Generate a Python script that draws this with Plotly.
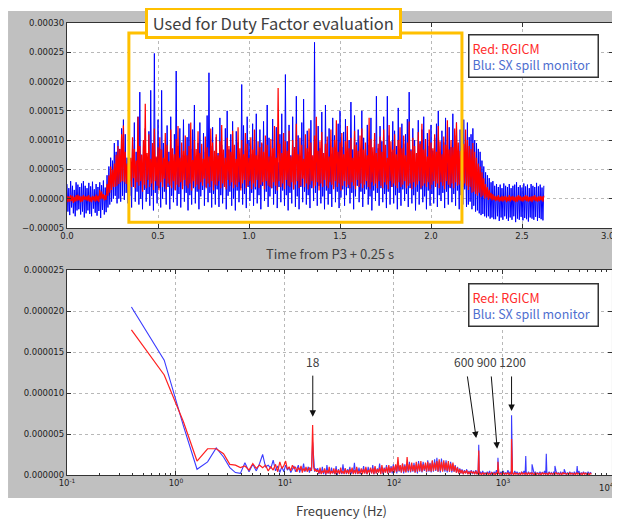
import math
import numpy as np
import plotly.graph_objects as go

# ---------------- Top panel: spill signal vs time (units of 1e-6) ----------------
t_step = 0.005  # s, sampling grid of the reproduced trace
sx_spill_top = [
    # 0.000-0.215 s
    25, -22, 18, -28, 30, -15, 22, -25, 15, -30, 28, -20, 24, -18, 20, -27, 26, -22, 30, -32, 22, -25,
    18, -20, 27, -26, 21, -30, 29, -17, 16, -24, 25, -29, 20, -21, 28, -33, 23, -19, 31, -27, 19, -23,
    # 0.220-0.315 s
    40, -15, 55, -10, 70, -5, 65, 0, 95, 5, 80, -8, 100, 0, 85, -5, 120, 5, 135, -2,
    # 0.320-2.195 s
    110, 10, 70, -8, 125, 5, 60, -15, 95, 20, 130, -5, 80, 12, 140, -10, 182, 0, 75, -18,
    100, 15, 120, -5, 65, 8, 115, -12, 185, 5, 90, -20, 248, 10, 70, -8, 135, 18, 85, -15,
    185, 0, 95, 12, 60, -10, 125, 20, 80, -18, 140, 5, 70, -6, 110, 15, 218, -12, 90, 8,
    120, -15, 75, 22, 135, -5, 65, 10, 105, -20, 128, 6, 85, -10, 118, 18, 160, -8, 72, 12,
    95, -18, 130, 4, 68, 15, 112, -12, 80, 20, 142, -6, 215, 10, 90, -15, 122, 8, 60, -10,
    105, 16, 78, -14, 138, 6, 92, -8, 64, 22, 120, -18, 150, 5, 84, 12, 110, -12, 132, 0,
    70, -20, 115, 14, 96, -6, 58, 18, 195, -10, 125, 8, 82, -16, 140, 20, 100, -4, 76, 10,
    128, -12, 88, 16, 145, -8, 66, 6, 118, -18, 94, 22, 132, -4, 78, 12, 160, -14, 104, 4,
    72, 18, 136, -10, 90, 8, 122, -16, 62, 20, 110, -6, 145, 14, 84, -12, 212, 6, 98, -20,
    126, 10, 74, -8, 140, 16, 88, -14, 175, 4, 108, -18, 68, 20, 130, -6, 170, 12, 92, -10,
    116, 6, 80, -16, 134, 18, 60, -4, 267, 10, 102, -12, 124, 22, 86, -8, 148, 4, 70, -18,
    160, 14, 94, -10, 120, 8, 76, -14, 138, 20, 108, -6, 66, 12, 128, -16, 150, 2, 88, 16,
    114, -12, 136, 6, 72, 18, 100, -8, 165, 10, 84, -18, 142, 4, 96, 22, 118, -6, 62, 12,
    150, -14, 104, 8, 82, 16, 126, -10, 92, 4, 138, -20, 70, 14, 112, -4, 175, 10, 86, -12,
    124, 18, 98, -6, 140, 8, 64, -16, 175, 12, 108, -10, 80, 20, 132, -8, 116, 6, 90, -18,
    155, 10, 72, -12, 128, 16, 94, -4, 110, 8, 136, -14, 182, 18, 84, -8, 120, 6, 100, -20,
    76, 12, 134, -10, 98, 16, 118, -6, 140, 4, 68, -18, 112, 14, 90, -12, 126, 8, 82, -8,
    104, 20, 128, -14, 150, 6, 74, -4, 116, 10, 96, -16, 138, 12, 62, -10, 122, 18, 88, -6,
    145, 8, 108, -12, 130, 14, 78, -18, 118, 6, 94, -10, 135, 16, 70, -14,
    # 2.200-2.345 s
    130, -10, 105, -5, 110, -18, 120, -12, 100, -22, 95, -20, 85, -25, 80, -28, 65, -26, 55, -30,
    45, -32, 40, -30, 35, -34, 28, -32, 30, -35,
    # 2.350-2.620 s
    22, -35, 25, -30, 20, -38, 24, -32, 18, -36, 26, -30, 22, -34, 20, -38, 25, -32, 18, -36,
    22, -30, 24, -40, 28, -34, 20, -36, 23, -31, 19, -37, 26, -33, 21, -35, 24, -39, 18, -32,
    25, -34, 22, -36, 20, -31, 27, -38, 21, -33, 24, -35, 19, -37, 22,
]
rgicm_top = [
    5, -6, 4, -5, 6, -4, 5, -7, 3, -5, 6, -4, 7, -3, 5, -6, 4, -5, 6, -2, 4, -3,
    5, -4, 6, -5, 3, -6, 5, -3, 4, -5, 7, -4, 5, -6, 15, -1, 12, 0, 8, -3, 6, -2,
    25, 5, 40, 10, 55, 15, 50, 20, 60, 20, 75, 22, 90, 25, 85, 28, 110, 30, 125, 28,
    80, 25, 60, 15, 95, 30, 70, 20, 105, 35, 85, 18, 65, 28, 140, 22, 90, 30, 75, 12,
    100, 24, 162, 18, 78, 32, 110, 20, 68, 26, 95, 15, 120, 30, 72, 22, 88, 14, 105, 28,
    84, 20, 70, 34, 112, 16, 92, 26, 64, 22, 118, 18, 86, 30, 76, 14, 102, 24, 124, 20,
    70, 28, 96, 16, 82, 32, 108, 22, 74, 18, 90, 26, 130, 14, 66, 30, 100, 20, 85, 24,
    115, 16, 78, 28, 94, 22, 68, 34, 106, 18, 88, 26, 72, 20, 120, 30, 96, 14, 82, 24,
    110, 22, 74, 30, 98, 18, 126, 26, 84, 20, 70, 16, 104, 32, 90, 22, 80, 28, 116, 18,
    92, 24, 68, 20, 122, 28, 86, 14, 100, 26, 76, 32, 112, 18, 94, 22, 70, 30, 105, 16,
    84, 26, 118, 20, 74, 32, 98, 18, 88, 24, 96, 28, 80, 16, 108, 30, 92, 22, 72, 20,
    102, 18, 86, 28, 124, 22, 70, 14, 189, 30, 94, 20, 78, 26, 112, 16, 98, 32, 82, 22,
    116, 20, 72, 28, 100, 16, 88, 24, 128, 30, 76, 18, 104, 22, 92, 34, 68, 20, 110, 26,
    86, 16, 120, 24, 96, 30, 74, 18, 108, 22, 140, 28, 82, 14, 98, 26, 114, 20, 78, 32,
    94, 22, 106, 18, 72, 28, 118, 24, 88, 16, 100, 30, 134, 20, 80, 26, 96, 14, 112, 22,
    76, 30, 98, 20, 124, 24, 86, 18, 104, 28, 70, 22, 116, 16, 92, 32, 82, 20, 108, 26,
    120, 18, 84, 24, 96, 30, 74, 20, 138, 16, 102, 28, 88, 22, 112, 26, 78, 18, 94, 30,
    106, 22, 80, 18, 118, 28, 92, 24, 70, 16, 126, 30, 98, 20, 84, 26, 110, 22, 76, 18,
    100, 28, 122, 20, 86, 24, 108, 30, 74, 18, 96, 22, 132, 26, 82, 16, 104, 28, 90, 20,
    78, 24, 114, 30, 94, 18, 128, 22, 84, 26, 102, 20, 72, 28, 118, 16, 96, 24, 86, 30,
    110, 20, 80, 26, 124, 18, 98, 28, 76, 22, 106, 16, 92, 30, 134, 24, 84, 20, 100, 26,
    88, 18, 120, 28, 130, 22, 96, 24, 82, 30, 110, 20, 94, 26, 118, 22,
    100, 15, 90, 20, 85, 10, 95, 12, 80, 8, 70, 5, 60, 10, 55, 3, 45, 5, 35, 0,
    25, 2, 20, -2, 15, 0, 10, -3, 8, -2,
    5, -4, 4, -3, 6, -5, 3, -4, 5, -5, 4, -3, 5, -6, 3, -4, 6, -5, 4, -3,
    5, -4, 3, -6, 4, -5, 6, -3, 5, -4, 3, -5, 4, -3, 6, -4, 5, -5, 3, -4,
    4, -6, 5, -3, 6, -4, 3, -5, 4, -4, 5, -3, 4, -5, 5,
]

# ---------------- Bottom panel: spectrum (units of 1e-7) ----------------
lf_freq_hz = [0.39, 0.78, 1.17, 1.56, 1.95, 2.34, 2.73, 3.12, 3.51, 3.90, 4.29, 4.68, 5.07, 5.46,
              5.85, 6.24, 6.63, 7.02, 7.41, 7.80, 8.19, 8.58, 8.97, 9.36, 9.75, 10.14, 10.53, 10.92,
              11.31, 11.70, 12.09, 12.48, 12.87, 13.26, 13.65, 14.04, 14.43, 14.82, 15.21, 15.60,
              15.99, 16.38, 16.77, 17.16, 17.55, 17.94, 18.33, 18.72, 19.11, 19.50]
lf_sx = [205, 140, 60, 7, 16, 33, 22, 9, 3, 2, 15, 4, 13, 5, 14, 25, 10, 12, 8, 18, 5, 11, 3, 10, 4,
         12, 6, 9, 3, 8, 11, 4, 7, 12, 3, 9, 5, 14, 4, 8, 6, 10, 3, 9, 5, 40, 12, 4, 8, 6]
lf_rgicm = [177, 122, 65, 17, 32, 32, 26, 13, 12, 9, 11, 6, 14, 8, 12, 9, 12, 5, 10, 6, 13, 4, 16, 8, 11,
            17, 7, 10, 5, 12, 8, 10, 4, 9, 6, 11, 3, 8, 5, 10, 4, 7, 9, 5, 8, 61, 10, 5, 7, 4]

dense_f_min, dense_f_max = 20.0, 6500.0
dense_sx = [
    8, 1, 6, 2, 10, 1, 7, 0, 12, 2, 6, 1, 9, 2, 5, 1, 11, 0, 7, 2,
    6, 1, 13, 2, 8, 1, 7, 3, 10, 1, 6, 2, 15, 1, 8, 2, 9, 1, 7, 3,
    11, 2, 8, 1, 10, 3, 7, 2, 12, 1, 9, 2, 8, 3, 14, 2, 10, 1, 9, 3,
    12, 2, 10, 3, 11, 2, 13, 3, 12, 2, 15, 4, 11, 3, 14, 2, 13, 4, 12, 3,
    16, 3, 12, 4, 15, 3, 13, 2, 17, 4, 14, 3, 16, 5, 13, 3, 18, 4, 15, 3,
    17, 4, 19, 5, 21, 4, 16, 3, 20, 5, 15, 4, 18, 3, 14, 4, 16, 3, 13, 4,
    12, 3, 10, 2, 8, 2, 7, 1, 6, 2, 7, 1, 5, 2, 6, 1, 5, 1, 6, 1,
    5, 1, 4, 1, 5, 0, 3, 1, 4, 1, 5, 0, 3, 1, 4, 1, 6, 0, 3, 1,
    4, 1, 5, 0, 3, 1, 6, 1, 4, 0, 3, 1, 5, 1, 4, 0, 3, 1, 4, 1,
    5, 0, 3, 1, 4, 1, 3, 0, 5, 1, 4, 1, 3, 0, 4, 1, 3, 1, 5, 0,
    3, 1, 4, 1, 3, 0, 4, 1, 5, 1, 3, 0, 4, 1, 3, 1, 4, 0, 3, 1,
    4, 1, 3, 0, 4, 1, 3, 1, 5, 0, 3, 1, 4, 1, 3, 0, 4, 1, 3, 2,
]
dense_rgicm = [
    6, 2, 9, 1, 5, 3, 8, 1, 6, 2, 10, 1, 5, 2, 8, 1, 7, 2, 6, 1,
    9, 2, 5, 1, 8, 2, 6, 1, 7, 3, 9, 1, 6, 2, 10, 1, 5, 2, 8, 1,
    7, 2, 10, 1, 6, 3, 9, 2, 8, 1, 11, 2, 7, 3, 9, 1, 12, 2, 8, 3,
    10, 2, 12, 3, 9, 4, 11, 3, 13, 4, 22, 5, 12, 3, 14, 4, 11, 3, 22, 5,
    13, 4, 15, 5, 12, 3, 16, 4, 14, 5, 17, 4, 13, 6, 15, 4, 16, 5, 14, 4,
    18, 5, 15, 6, 17, 4, 19, 5, 16, 4, 18, 6, 15, 5, 17, 4, 14, 5, 15, 4,
    11, 3, 9, 2, 7, 2, 6, 1, 5, 2, 6, 1, 4, 1, 5, 2, 4, 1, 5, 1,
    3, 1, 2, 0, 3, 1, 2, 1, 3, 0, 2, 1, 3, 1, 2, 0, 3, 1, 2, 1,
    2, 0, 3, 1, 2, 1, 3, 0, 2, 1, 2, 0, 3, 1, 2, 1, 2, 0, 3, 1,
    2, 1, 2, 0, 3, 1, 2, 1, 2, 0, 3, 1, 2, 1, 2, 0, 3, 1, 2, 1,
    2, 0, 3, 1, 2, 1, 2, 0, 3, 1, 2, 1, 2, 0, 3, 1, 2, 1, 2, 0,
    3, 1, 2, 1, 2, 0, 3, 1, 2, 1, 2, 0, 3, 1, 2, 1, 2, 0, 2, 1,
]
peak_freq_hz = [600, 900, 1200, 1620, 1850, 2500, 3000, 3650, 4800]
peak_sx = [37, 21, 73, 23, 13, 26, 11, 7, 11]
peak_rgicm = [30, 16, 44, 3, 3, 2, 2, 2, 2]

# tick labels (the last label of each x axis is placed as an edge-anchored text)
top_y_ticks = [-0.00005, 0.0, 0.00005, 0.0001, 0.00015, 0.0002, 0.00025, 0.0003]
top_y_labels = ["\u22120.00005", "0.00000", "0.00005", "0.00010", "0.00015", "0.00020", "0.00025", "0.00030"]
top_x_ticks = [0.0, 0.5, 1.0, 1.5, 2.0, 2.5, 3.0]
top_x_labels = ["0.0", "0.5", "1.0", "1.5", "2.0", "2.5", "3.0"]
bot_y_ticks = [0, 0.000005, 0.00001, 0.000015, 0.00002, 0.000025]
bot_y_labels = ["0.000000", "0.000005", "0.000010", "0.000015", "0.000020", "0.000025"]
bot_x_ticks = [0.1, 1, 10, 100, 1000, 10000]
bot_x_labels = ["10<sup>-1</sup>", "10<sup>0</sup>", "10<sup>1</sup>", "10<sup>2</sup>", "10<sup>3</sup>", "10<sup>4</sup>"]
bot_x_minor = [m * 10.0 ** e for e in range(-1, 4) for m in range(2, 10)]

# ---------------- build series ----------------
time_sx = np.arange(len(sx_spill_top)) * t_step
time_rg = np.arange(len(rgicm_top)) * t_step
top_sx = np.array(sx_spill_top) * 1e-6
top_rg = np.array(rgicm_top) * 1e-6

dense_freq = np.geomspace(dense_f_min, dense_f_max, len(dense_sx))


def spectrum(lf, dense, peaks):
    f = np.concatenate([lf_freq_hz, dense_freq, peak_freq_hz])
    v = np.concatenate([lf, dense, peaks]) * 1e-7
    order = np.argsort(f, kind="stable")
    return f[order], v[order]


f_sx, s_sx = spectrum(lf_sx, dense_sx, peak_sx)
f_rg, s_rg = spectrum(lf_rgicm, dense_rgicm, peak_rgicm)

BLUE = "#0000ff"
RED = "#ff0000"
fig = go.Figure()
fig.add_trace(go.Scatter(x=time_sx, y=top_sx, mode="lines", line=dict(color=BLUE, width=1),
                         xaxis="x", yaxis="y", showlegend=False))
fig.add_trace(go.Scatter(x=time_rg, y=top_rg, mode="lines", line=dict(color=RED, width=1.2),
                         xaxis="x", yaxis="y", showlegend=False))
fig.add_trace(go.Scatter(x=f_sx, y=s_sx, mode="lines", line=dict(color="#3a3aff", width=1.1),
                         xaxis="x2", yaxis="y2", showlegend=False))
fig.add_trace(go.Scatter(x=f_rg, y=s_rg, mode="lines", line=dict(color="#ff2020", width=1.2),
                         xaxis="x2", yaxis="y2", showlegend=False))

TICKFONT = dict(family="DejaVu Sans", size=8.5, color="#222222")
TITLEFONT = dict(family="Noto Sans CJK JP", size=13, color="#404040")
common = dict(showline=True, linecolor="#333333", linewidth=1.2, mirror="ticks", ticks="inside",
              ticklen=4, tickcolor="#333333", showgrid=True, gridcolor="#b8b8b8", griddash="dot",
              gridwidth=1, zeroline=False, tickfont=TICKFONT, automargin=False)

# the page body adds an 8px offset, so the figure itself is 8px smaller than the window
fig.update_layout(
    width=612, height=511,
    margin=dict(l=59, r=7, t=15, b=44, autoexpand=False),
    paper_bgcolor="white", plot_bgcolor="white",
    xaxis=dict(domain=[0, 1], anchor="y", range=[0, 3], tickmode="array", tickvals=top_x_ticks,
               ticktext=top_x_labels[:-1] + [""], **common),
    yaxis=dict(domain=[0.5465, 1], anchor="x", range=[-0.00005, 0.0003], tickmode="array",
               tickvals=top_y_ticks, ticktext=top_y_labels, **common),
    xaxis2=dict(domain=[0, 0.998], anchor="y2", type="log", range=[-1, 4], tickmode="array",
                tickvals=bot_x_ticks, ticktext=bot_x_labels[:-1] + [""],
                minor=dict(tickmode="array", tickvals=bot_x_minor, ticks="inside", ticklen=2,
                           tickcolor="#333333", showgrid=False), **common),
    yaxis2=dict(domain=[0, 0.4535], anchor="x2", range=[0, 0.000025], tickmode="array",
                tickvals=bot_y_ticks, ticktext=bot_y_labels, **common),
)

# grey figure backdrop and white plot areas
fig.add_shape(type="rect", xref="paper", yref="paper", x0=-0.108, x1=1.009, y0=-0.051, y1=1.0265,
              fillcolor="#c0c0c0", line=dict(width=0), layer="below")
for xr, yr in (("x domain", "y domain"), ("x2 domain", "y2 domain")):
    fig.add_shape(type="rect", xref=xr, yref=yr, x0=0, x1=1, y0=0, y1=1,
                  fillcolor="white", line=dict(width=0), layer="below")

# last x tick labels, kept inside the page edge
fig.add_annotation(xref="paper", yref="paper", x=1.006, y=0.529, xanchor="right", yanchor="middle",
                   text=top_x_labels[-1], showarrow=False, font=TICKFONT, borderpad=0)
fig.add_annotation(xref="paper", yref="paper", x=1.003, y=-0.027, xanchor="right", yanchor="middle",
                   text=bot_x_labels[-1], showarrow=False, font=TICKFONT, borderpad=0)

# axis titles
fig.add_annotation(xref="paper", yref="paper", x=0.482, y=0.491, text="Time from P3 + 0.25 s",
                   showarrow=False, font=TITLEFONT, xanchor="center", yanchor="middle")
fig.add_annotation(xref="paper", yref="paper", x=0.502, y=-0.079, text="Frequency (Hz)",
                   showarrow=False, font=TITLEFONT, xanchor="center", yanchor="middle")

# orange evaluation window
fig.add_shape(type="rect", xref="x", yref="y", x0=0.34, x1=2.17, y0=-0.00004, y1=0.000283,
              line=dict(color="#ffc000", width=3), fillcolor="rgba(0,0,0,0)", layer="above")
fig.add_annotation(xref="paper", yref="paper", x=0.379, y=1.0, xanchor="center", yanchor="middle",
                   text="&nbsp;Used for Duty Factor evaluation&nbsp;", showarrow=False,
                   font=dict(family="Noto Sans CJK JP", size=16.5, color="#404040"),
                   bgcolor="white", bordercolor="#ffc000", borderwidth=3, borderpad=1)

legend_text = ("<span style='color:#ff2a2a'>Red: RGICM</span><br>"
               "<span style='color:#4f6fcf'>Blu: SX spill monitor</span>")
for ypos in (0.9757, 0.4248):
    fig.add_annotation(xref="paper", yref="paper", x=0.974, y=ypos, xanchor="right", yanchor="top",
                       text=legend_text, showarrow=False, align="left", width=122,
                       font=dict(family="Noto Sans CJK JP", size=12.5),
                       bgcolor="white", bordercolor="#333333", borderwidth=1.5, borderpad=3)

# arrows in spectrum
arrows = [  # (tip log10 f, tip y, tail log10 f, tail y)
    (math.log10(18), 7.1e-6, math.log10(18), 12.3e-6),
    (2.7546, 4.5e-6, 2.672, 12.2e-6),
    (2.947, 3.2e-6, 2.892, 12.2e-6),
    (math.log10(1200), 7.8e-6, math.log10(1200), 12.2e-6),
]
for x, y, ax, ay in arrows:
    fig.add_annotation(xref="x2", yref="y2", axref="x2", ayref="y2", x=x, y=y, ax=ax, ay=ay,
                       text="", showarrow=True, arrowhead=2, arrowsize=1.3, arrowwidth=1,
                       arrowcolor="#111111")
fig.add_annotation(xref="x2", yref="y2", x=math.log10(18), y=13.8e-6, text="18", showarrow=False,
                   font=dict(family="Noto Sans CJK JP", size=12, color="#404040"))
fig.add_annotation(xref="x2", yref="y2", x=2.883, y=13.8e-6, text="600 900 1200", showarrow=False,
                   font=dict(family="Noto Sans CJK JP", size=12, color="#404040"))

fig.write_html("out.html")
